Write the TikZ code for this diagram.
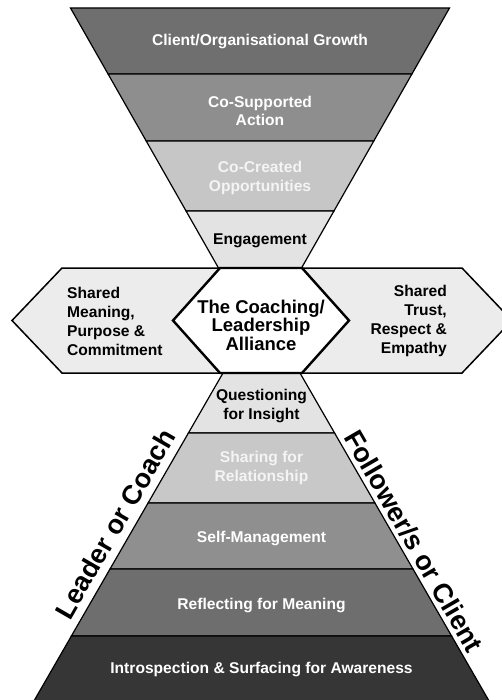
\documentclass[tikz,border=0pt]{standalone}
\usepackage{fontspec}
\setmainfont{Liberation Sans}
\usetikzlibrary{calc}

\definecolor{gA}{HTML}{6F6F6F}
\definecolor{gB}{HTML}{8E8E8E}
\definecolor{gC}{HTML}{C6C6C6}
\definecolor{gD}{HTML}{E3E3E3}
\definecolor{gHex}{HTML}{ECECEC}
\definecolor{pA}{HTML}{E3E3E3}
\definecolor{pB}{HTML}{C8C8C8}
\definecolor{pC}{HTML}{8F8F8F}
\definecolor{pD}{HTML}{6E6E6E}
\definecolor{pE}{HTML}{363636}
\definecolor{paleText}{HTML}{F4F4F4}

\begin{document}
\begin{tikzpicture}[x=1pt,y=-1pt,
  band/.style={draw=black,line width=1.2pt},
  sidehex/.style={draw=black,line width=1.5pt,fill=gHex},
  corehex/.style={draw=black,line width=2.4pt,fill=white},
  lbl/.style={font=\bfseries\fontsize{15.6}{18.5}\selectfont,align=center,inner sep=0pt},
  sidelbl/.style={font=\bfseries\fontsize{15.6}{19}\selectfont,inner sep=0pt},
  corelbl/.style={font=\bfseries\fontsize{18.5}{18.4}\selectfont,align=center,inner sep=0pt},
  edgelbl/.style={font=\bfseries\fontsize{27}{27}\selectfont,inner sep=0pt}]
\clip (0,0) rectangle (502,700);

% ---- upper funnel ----
\coordinate (f0l) at (70.5,8);
\coordinate (f0r) at (449.5,8);
\coordinate (f4l) at (218.5,268);
\coordinate (f4r) at (301.5,268);
\coordinate (f1l) at ($(f0l)!0.2538!(f4l)$);
\coordinate (f1r) at ($(f0r)!0.2538!(f4r)$);
\coordinate (f2l) at ($(f0l)!0.5115!(f4l)$);
\coordinate (f2r) at ($(f0r)!0.5115!(f4r)$);
\coordinate (f3l) at ($(f0l)!0.7808!(f4l)$);
\coordinate (f3r) at ($(f0r)!0.7808!(f4r)$);

\draw[band,fill=gA] (f0l) -- (f0r) -- (f1r) -- (f1l) -- cycle;
\draw[band,fill=gB] (f1l) -- (f1r) -- (f2r) -- (f2l) -- cycle;
\draw[band,fill=gC] (f2l) -- (f2r) -- (f3r) -- (f3l) -- cycle;
\draw[band,fill=gD] (f3l) -- (f3r) -- (f4r) -- (f4l) -- cycle;

% ---- lower pyramid ----
\coordinate (p0l) at (223,373);
\coordinate (p0r) at (300,373);
\coordinate (p5l) at (32.2,704);
\coordinate (p5r) at (490.8,704);
\coordinate (p1l) at ($(p0l)!0.1813!(p5l)$);
\coordinate (p1r) at ($(p0r)!0.1813!(p5r)$);
\coordinate (p2l) at ($(p0l)!0.3927!(p5l)$);
\coordinate (p2r) at ($(p0r)!0.3927!(p5r)$);
\coordinate (p3l) at ($(p0l)!0.5921!(p5l)$);
\coordinate (p3r) at ($(p0r)!0.5921!(p5r)$);
\coordinate (p4l) at ($(p0l)!0.7946!(p5l)$);
\coordinate (p4r) at ($(p0r)!0.7946!(p5r)$);

\draw[band,fill=pA] (p0l) -- (p0r) -- (p1r) -- (p1l) -- cycle;
\draw[band,fill=pB] (p1l) -- (p1r) -- (p2r) -- (p2l) -- cycle;
\draw[band,fill=pC] (p2l) -- (p2r) -- (p3r) -- (p3l) -- cycle;
\draw[band,fill=pD] (p3l) -- (p3r) -- (p4r) -- (p4l) -- cycle;
\draw[band,fill=pE] (p4l) -- (p4r) -- (p5r) -- (p5l) -- cycle;

% ---- the three hexagons ----
\draw[sidehex] (12,320.5) -- (62,268) -- (220,268) -- (173,320.5)
  -- (220,373) -- (62,373) -- cycle;
\draw[sidehex] (302,268) -- (462,268) -- (512,320.5) -- (462,373)
  -- (302,373) -- (349,320.5) -- cycle;
\draw[corehex] (173,320.5) -- (220,268) -- (302,268) -- (349,320.5)
  -- (302,373) -- (220,373) -- cycle;

% ---- texts ----
\node[lbl,text=white] (growth) at (260,42) {Client/Organisational Growth};
\node[lbl,text=white] (action) at (260,111) {Co-Supported\\Action};
\node[lbl,text=paleText] (opps) at (260,178) {Co-Created\\Opportunities};
\node[lbl] (engage) at (260,241) {Engagement};

\node[sidelbl,anchor=west,align=left] (meaning) at (67,321)
  {Shared\\Meaning,\\Purpose \&\\Commitment};
\node[sidelbl,anchor=east,align=right] (trust) at (447,321)
  {Shared\\Trust,\\Respect \&\\Empathy};
\node[corelbl] (alliance) at (261,325) {The Coaching/\\Leadership\\Alliance};

\node[lbl] (insight) at (261.5,406) {Questioning\\for Insight};
\node[lbl,text=paleText] (relation) at (261.5,468) {Sharing for\\Relationship};
\node[lbl,text=white] (selfm) at (261.5,538) {Self-Management};
\node[lbl,text=white] (reflect) at (261.5,605) {Reflecting for Meaning};
\node[lbl,text=white] (aware) at (261.5,669) {Introspection \& Surfacing for Awareness};

\node[edgelbl,rotate=60] (leader) at (115,524) {Leader or Coach};
\node[edgelbl,rotate=-60] (follower) at (414,541) {Follower/s or Client};
\end{tikzpicture}
\end{document}
